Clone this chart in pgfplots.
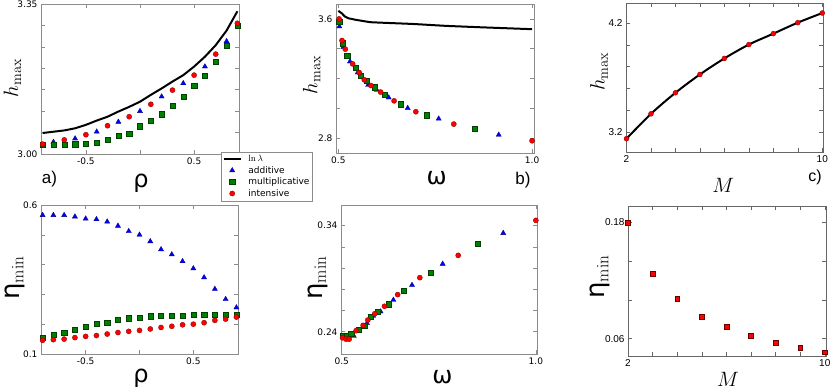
\documentclass[border=0pt]{standalone}
\usepackage[no-math]{fontspec}
\setmainfont{DejaVu Sans}
\newfontfamily\helv{Liberation Sans}
\usepackage{pgfplots}
\pgfplotsset{compat=1.18}

\definecolor{mblue}{rgb}{0,0,1}
\definecolor{mgreen}{rgb}{0,0.5,0}
\definecolor{mred}{rgb}{1,0,0}
\definecolor{frm}{gray}{0.55}
\definecolor{mfrm}{gray}{0.4}

\pgfplotsset{
  panel/.style={scale only axis, anchor=south west,
    axis line style={frm, line width=0.9pt},
    tick style={frm, line width=0.6pt},
    tick align=inside, major tick length=4pt, minor tick length=4pt,
    ticklabel style={font=\fontsize{9}{10}\selectfont},
    xlabel style={font=\fontsize{24}{26}\selectfont, anchor=center},
    ylabel style={font=\fontsize{20}{22}\selectfont, anchor=center}},
  mpanel/.style={panel,
    axis line style={mfrm, line width=0.6pt},
    tick style={mfrm, line width=0.5pt},
    ticklabel style={font=\helv\fontsize{10}{11}\selectfont},
    xlabel style={font=\fontsize{20}{22}\selectfont}},
  add/.style={only marks, mark=triangle*, mark size=3pt,
    mark options={fill=mblue, draw=mblue!50!black, line width=0.3pt}},
  mul/.style={only marks, mark=square*, mark size=2.6pt,
    mark options={fill=mgreen, draw=mgreen!50!black, line width=0.3pt}},
  int/.style={only marks, mark=*, mark size=2.6pt,
    mark options={fill=mred, draw=mred!50!black, line width=0.3pt}},
}

\begin{document}
\begin{tikzpicture}
\useasboundingbox (0,0) rectangle (830pt,389pt);

% d) eta_min vs rho
\begin{axis}[panel, at={(41pt,35pt)}, width=197pt, height=149pt,
  xmin=-0.915, xmax=0.915, ymin=0.1, ymax=0.6,
  xtick={-0.5,0.5}, xticklabels={-0.5,0.5}, minor xtick={0},
  ytick={0.1,0.6}, yticklabels={0.1,0.6},
  minor ytick={0.2,0.3,0.4,0.5},
  xlabel={ρ}, xlabel style={at={(axis description cs:0.508,-0.161)}},
  ylabel={\fontsize{26}{28}\selectfont η$_{\mathrm{min}}$},
  ylabel style={at={(axis description cs:-0.132,0.51)}}]
\addplot[add] coordinates {(-0.9,0.566)(-0.8,0.566)(-0.7,0.566)(-0.6,0.561)(-0.5,0.554)(-0.4,0.552)(-0.3,0.544)(-0.2,0.530)(-0.1,0.512)(0,0.500)(0.1,0.478)(0.2,0.451)(0.3,0.434)(0.4,0.411)(0.5,0.387)(0.6,0.357)(0.7,0.318)(0.8,0.284)(0.9,0.256)};
\addplot[mul] coordinates {(-0.9,0.156)(-0.8,0.164)(-0.7,0.171)(-0.6,0.183)(-0.5,0.192)(-0.4,0.201)(-0.3,0.206)(-0.2,0.214)(-0.1,0.220)(0,0.223)(0.1,0.227)(0.2,0.229)(0.3,0.230)(0.4,0.230)(0.5,0.231)(0.6,0.231)(0.7,0.232)(0.8,0.233)(0.9,0.233)};
\addplot[int] coordinates {(-0.9,0.146)(-0.8,0.148)(-0.7,0.150)(-0.6,0.155)(-0.5,0.159)(-0.4,0.162)(-0.3,0.167)(-0.2,0.172)(-0.1,0.176)(0,0.179)(0.1,0.184)(0.2,0.189)(0.3,0.193)(0.4,0.198)(0.5,0.200)(0.6,0.205)(0.7,0.213)(0.8,0.217)(0.9,0.224)};
\end{axis}

% e) eta_min vs omega
\begin{axis}[panel, at={(341pt,35pt)}, width=196pt, height=149pt,
  xmin=0.498, xmax=1.003, ymin=0.219, ymax=0.3595,
  xtick={0.5,1.0}, xticklabels={0.5,1.0},
  ytick={0.24,0.34}, yticklabels={0.24,0.34},
  minor ytick={0.26,0.28,0.30,0.32},
  xlabel={ω}, xlabel style={at={(axis description cs:0.518,-0.158)}},
  ylabel={\fontsize{26}{28}\selectfont η$_{\mathrm{min}}$},
  ylabel style={at={(axis description cs:-0.12,0.51)}}]
\addplot[add] coordinates {(0.531,0.236)(0.565,0.248)(0.581,0.255)(0.600,0.259)(0.633,0.270)(0.681,0.284)(0.760,0.304)(0.916,0.333)};
\addplot[mul] coordinates {(0.502,0.236)(0.512,0.236)(0.524,0.238)(0.544,0.242)(0.559,0.246)(0.574,0.254)(0.593,0.259)(0.620,0.266)(0.660,0.279)(0.729,0.296)(0.851,0.323)};
\addplot[int] coordinates {(0.502,0.2343)(0.511,0.233)(0.519,0.233)(0.537,0.241)(0.555,0.246)(0.567,0.251)(0.585,0.257)(0.610,0.264)(0.644,0.275)(0.701,0.291)(0.800,0.312)(1.0,0.345)};
\end{axis}

% f) eta_min vs M
\begin{axis}[mpanel, at={(628pt,33pt)}, width=198pt, height=150pt,
  xmin=2, xmax=10.05, ymin=0.042, ymax=0.197,
  xtick={2,10}, xticklabels={2,10}, minor xtick={3,4,5,6,7,8,9},
  ytick={0.06,0.18}, yticklabels={0.06,0.18}, minor ytick={0.10,0.14},
  xlabel={$M$}, xlabel style={at={(axis description cs:0.505,-0.153)}},
  ylabel={\fontsize{26}{28}\selectfont η$_{\mathrm{min}}$},
  ylabel style={at={(axis description cs:-0.141,0.527)}}]
\addplot[only marks, mark=square*, mark size=2.4pt,
  mark options={fill=mred, draw=mred!40!black, line width=0.3pt}]
  coordinates {(2,0.180)(3,0.127)(4,0.101)(5,0.083)(6,0.072)(7,0.063)(8,0.056)(9,0.051)(10,0.046)};
\end{axis}

% a) h_max vs rho
\begin{axis}[panel, at={(41pt,235pt)}, width=198pt, height=150pt,
  xmin=-0.915, xmax=0.915, ymin=3.0, ymax=3.35,
  xtick={-0.5,0.5}, xticklabels={-0.5,0.5}, minor xtick={0},
  ytick={3.0,3.35}, yticklabels={3.00,3.35},
  minor ytick={3.05,3.10,3.15,3.20,3.25,3.30},
  xlabel={ρ}, xlabel style={at={(axis description cs:0.505,-0.193)}},
  ylabel={$h_{\max}$}, ylabel style={at={(axis description cs:-0.144,0.507)}},
  legend style={at={(axis description cs:0.909,0.0133)}, anchor=north west,
    draw=frm, fill=white, font=\fontsize{9}{10}\selectfont, inner sep=1.5pt,
    nodes={inner sep=1.6pt},
    /tikz/every odd column/.append style={column sep=5pt}},
  legend cell align=left]
\addplot[black, line width=2pt] coordinates {(-0.9,3.049)(-0.8,3.052)(-0.7,3.055)(-0.6,3.060)(-0.5,3.068)(-0.4,3.078)(-0.3,3.087)(-0.2,3.099)(-0.1,3.110)(0,3.122)(0.1,3.138)(0.2,3.153)(0.3,3.169)(0.4,3.184)(0.5,3.204)(0.6,3.227)(0.7,3.254)(0.8,3.288)(0.9,3.333)};
\addlegendentry{$\ln\lambda$}
\addplot[add] coordinates {(-0.8,3.028)(-0.6,3.036)(-0.4,3.052)(-0.2,3.075)(0,3.100)(0.2,3.134)(0.4,3.165)(0.6,3.204)(0.8,3.263)};
\addlegendentry{additive}
\addplot[mul] coordinates {(-0.9,3.0226)(-0.8,3.0226)(-0.7,3.0226)(-0.6,3.023)(-0.5,3.025)(-0.4,3.027)(-0.3,3.033)(-0.2,3.042)(-0.1,3.048)(0,3.065)(0.1,3.078)(0.2,3.093)(0.3,3.113)(0.4,3.134)(0.5,3.160)(0.6,3.182)(0.7,3.216)(0.8,3.252)(0.9,3.299)};
\addlegendentry{multiplicative}
\addplot[int] coordinates {(-0.9,3.023)(-0.7,3.033)(-0.5,3.045)(-0.3,3.066)(-0.1,3.087)(0.1,3.116)(0.3,3.149)(0.5,3.184)(0.7,3.233)(0.9,3.305)};
\addlegendentry{intensive}
\end{axis}

% b) h_max vs omega
\begin{axis}[panel, at={(336pt,236pt)}, width=198pt, height=149pt,
  xmin=0.494, xmax=1.005, ymin=2.7, ymax=3.7,
  xtick={0.5,1.0}, xticklabels={0.5,1.0},
  ytick={2.8,3.6}, yticklabels={2.8,3.6},
  minor ytick={3.0,3.2,3.4},
  xlabel={ω}, xlabel style={at={(axis description cs:0.509,-0.170)}},
  ylabel={$h_{\max}$}, ylabel style={at={(axis description cs:-0.123,0.523)}}]
\addplot[black, line width=2pt] coordinates {(0.5,3.654)(0.5086,3.638)(0.517,3.616)(0.526,3.604)(0.547,3.593)(0.582,3.578)(0.607,3.575)(0.693,3.566)(0.779,3.553)(0.865,3.544)(1.0,3.531)};
\addplot[add] coordinates {(0.5026,3.549)(0.513,3.410)(0.530,3.314)(0.55,3.240)(0.577,3.157)(0.599,3.124)(0.63,3.072)(0.679,3.001)(0.759,2.930)(0.914,2.822)};
\addplot[mul] coordinates {(0.502,3.582)(0.512,3.437)(0.523,3.352)(0.545,3.274)(0.558,3.218)(0.573,3.184)(0.594,3.142)(0.619,3.093)(0.661,3.028)(0.728,2.954)(0.851,2.863)};
\addplot[int] coordinates {(0.502,3.600)(0.5095,3.455)(0.518,3.397)(0.537,3.298)(0.554,3.240)(0.567,3.191)(0.584,3.153)(0.609,3.109)(0.644,3.050)(0.700,2.977)(0.798,2.894)(1.0,2.782)};
\end{axis}

% c) h_max vs M
\begin{axis}[mpanel, at={(626pt,237pt)}, width=197pt, height=149pt,
  xmin=1.98, xmax=10.03, ymin=3.017, ymax=4.383,
  xtick={2,10}, xticklabels={2,10}, minor xtick={3,4,5,6,7,8,9},
  ytick={3.2,4.2}, yticklabels={3.2,4.2}, minor ytick={3.4,3.6,3.8,4.0},
  xlabel={$M$}, xlabel style={at={(axis description cs:0.494,-0.221)}},
  ylabel={$h_{\max}$}, ylabel style={at={(axis description cs:-0.137,0.539)}}]
\addplot[black, line width=2pt, smooth] coordinates {(2,3.139)(3,3.367)(4,3.560)(5,3.728)(6,3.875)(7,4.002)(8,4.102)(9,4.203)(10,4.291)};
\addplot[only marks, mark=*, mark size=2.5pt,
  mark options={fill=mred, draw=mred!40!black, line width=0.3pt}]
  coordinates {(2,3.139)(3,3.367)(4,3.560)(5,3.728)(6,3.875)(7,4.002)(8,4.102)(9,4.203)(10,4.291)};
\end{axis}

\node[font=\helv\fontsize{17}{19}\selectfont] at (49.5pt,210pt) {a)};
\node[font=\helv\fontsize{17}{19}\selectfont] at (523pt,209pt) {b)};
\node[font=\helv\fontsize{16}{18}\selectfont] at (815pt,212pt) {c)};
\end{tikzpicture}
\end{document}
